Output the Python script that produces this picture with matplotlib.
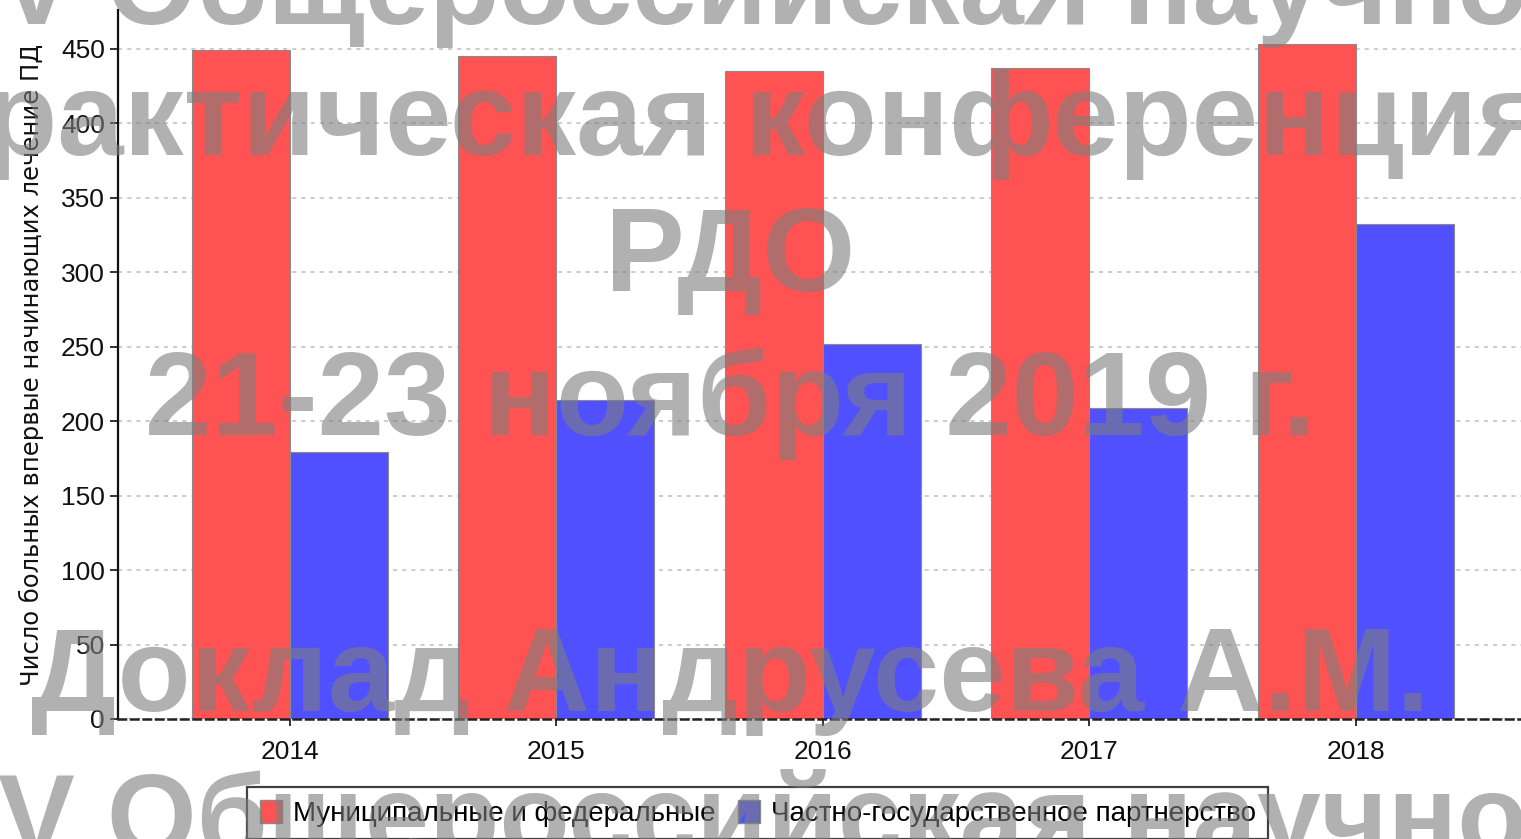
import matplotlib
matplotlib.use("Agg")
import matplotlib.pyplot as plt
from matplotlib.patches import Patch
import numpy as np

plt.rcParams['font.family'] = ['Liberation Sans', 'DejaVu Sans']

years = ['2014', '2015', '2016', '2017', '2018']
municipal = [449, 445, 435, 437, 453]
ppp = [179, 214, 252, 209, 332]
series_labels = ['Муниципальные и федеральные', 'Частно-государственное партнерство']
ylabel = 'Число больных впервые начинающих лечение ПД'
yticks = [0, 50, 100, 150, 200, 250, 300, 350, 400, 450]
watermark_lines = [
    'V Общероссийская научно-',
    'практическая конференция',
    'РДО',
    '21-23 ноября 2019 г.',
    '',
    'Доклад Андрусева А.М.',
    'V Общероссийская научно-',
]

red = '#FF5252'
blue = '#5050FF'

W, H = 1521, 839
fig = plt.figure(figsize=(W / 100, H / 100), dpi=100)
ax = fig.add_axes([118 / W, 1 - 719 / H, 1 - 118 / W, (719 - 10) / H])

x = np.arange(len(years))
bw = 0.368
ax.bar(x - bw / 2, municipal, width=bw, color=red, edgecolor='#8a8a8a', linewidth=0.8, zorder=3)
ax.bar(x + bw / 2, ppp, width=bw, color=blue, edgecolor='#8a8a8a', linewidth=0.8, zorder=3)

ax.set_xlim(-0.645, 4.62)
ax.set_ylim(0, 476)
ax.set_yticks(yticks)
ax.set_xticks(x)
ax.set_xticklabels(years)
ax.tick_params(axis='both', labelsize=19, colors='#111111', length=6, width=1.2)
ax.tick_params(axis='x', length=5, pad=10)
ax.yaxis.grid(True, color='#c4c4c4', linestyle=(0, (2.5, 3)), linewidth=1.2, zorder=0)
ax.set_axisbelow(True)
for s in ['top', 'right']:
    ax.spines[s].set_visible(False)
ax.spines['left'].set_linewidth(1.6)
ax.spines['left'].set_color('#111111')
ax.spines['bottom'].set_linestyle((0, (3, 2)))
ax.spines['bottom'].set_linewidth(1.8)
ax.spines['bottom'].set_color('#222222')
ax.spines['bottom'].set_zorder(4)
ax.set_ylabel(ylabel, fontsize=17.5, color='#111111', labelpad=12, family=['DejaVu Sans'])

handles = [Patch(facecolor=red, edgecolor='#8a8a8a'), Patch(facecolor=blue, edgecolor='#8a8a8a')]
leg = fig.legend(handles, series_labels, loc='upper left', bbox_to_anchor=(247 / W, 1 - 787 / H),
                 ncol=2, fontsize=20, frameon=True, fancybox=False, edgecolor='#111111',
                 handlelength=0.8, handleheight=0.9, handletextpad=0.4, columnspacing=0.8,
                 borderpad=0.45, borderaxespad=0)
leg.get_frame().set_linewidth(1.6)

# watermark overlay
baselines = [24, 155, 291, 435, 575, 711, 855]
for i, (line, yb) in enumerate(zip(watermark_lines, baselines)):
    if not line:
        continue
    if i in (0, len(watermark_lines) - 1):
        xpos, ha, fs = -2 / W, 'left', 83
    else:
        xpos, ha, fs = 730 / W, 'center', 86
    fig.text(xpos, 1 - yb / H, line, ha=ha, va='baseline', fontsize=fs,
             fontweight='bold', color='#7e7e7e', alpha=0.6, zorder=20)

fig.savefig('out.png', dpi=100)
